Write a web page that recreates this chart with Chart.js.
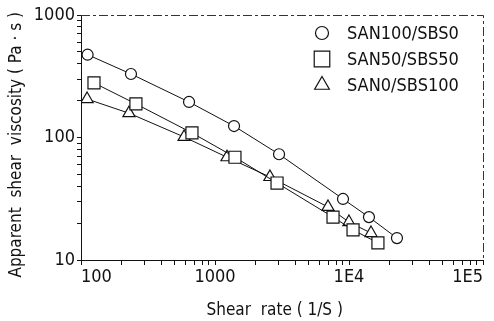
<!DOCTYPE html>
<html>
<head>
<meta charset="utf-8">
<script src="https://cdn.jsdelivr.net/npm/chart.js@4/dist/chart.umd.min.js"></script>
<style>
  html, body { margin: 0; padding: 0; background: #fff; }
  #grafico { display: block; }
</style>
</head>
<body>
<canvas id="grafico" width="494" height="321"></canvas>
<script>
// dados (taxa de cisalhamento em 1/s, viscosidade em Pa·s)
const seriesLabels = ['SAN100/SBS0', 'SAN50/SBS50', 'SAN0/SBS100'];
const shearRate100 = [112, 236, 640, 1387, 3006, 9020, 14090, 22800];
const visc100 = [474, 330, 195, 124, 73, 31.5, 22.4, 15.1];
const shearRate50 = [125, 257, 673, 1409, 2904, 7600, 10720, 16440];
const visc50 = [279, 188, 109, 69, 42.5, 22.4, 17.6, 13.8];
const shearRate0 = [111, 228, 588, 1230, 2570, 6970, 9990, 14590];
const visc0 = [206, 158, 101, 69, 47.6, 27.1, 20.4, 16.6];
const xTickLabels = {100: '100', 1000: '1000', 10000: '1E4', 100000: '1E5'};
const yTickLabels = {10: '10', 100: '100', 1000: '1000'};

const FONTE = "'DejaVu Sans Condensed', 'Liberation Sans Narrow', 'DejaVu Sans', sans-serif";
const TINTA = '#111';

function pares(xs, ys) {
  return xs.map((x, i) => ({ x: x, y: ys[i] }));
}

// marcas de 1 a 9 em cada década do eixo logarítmico
function marcasLog(scale) {
  const ticks = [];
  for (let e = Math.round(Math.log10(scale.min)); Math.pow(10, e) <= scale.max; e++) {
    for (let k = 1; k <= 9; k++) {
      const v = k * Math.pow(10, e);
      if (v >= scale.min && v <= scale.max) ticks.push({ value: v, major: k === 1 });
    }
  }
  scale.ticks = ticks;
}

function serie(label, xs, ys, estilo, raio) {
  return {
    label: label,
    data: pares(xs, ys),
    borderColor: TINTA,
    borderWidth: 1,
    pointStyle: estilo,
    pointRadius: raio,
    pointHoverRadius: raio,
    pointBackgroundColor: '#fff',
    pointBorderColor: TINTA,
    pointBorderWidth: 1.2,
    showLine: true,
    tension: 0
  };
}

// moldura tracejada em cima e à direita
const moldura = {
  id: 'moldura',
  afterDraw(chart) {
    const { ctx, chartArea: a } = chart;
    ctx.save();
    ctx.strokeStyle = '#333';
    ctx.lineWidth = 1;
    ctx.setLineDash([9, 3, 3, 3]);
    ctx.beginPath();
    ctx.moveTo(a.left, a.top + 0.5);
    ctx.lineTo(a.right + 0.5, a.top + 0.5);
    ctx.lineTo(a.right + 0.5, a.bottom);
    ctx.stroke();
    ctx.restore();
  }
};

// legenda desenhada dentro da área do gráfico
const legenda = {
  id: 'legenda',
  afterDraw(chart) {
    const { ctx, chartArea: a } = chart;
    const raios = [6.5, 11, 8.5];
    ctx.save();
    chart.data.datasets.forEach((ds, i) => {
      const x = a.right - 161;
      const y = a.top + 18 + i * 26;
      ctx.fillStyle = '#fff';
      ctx.strokeStyle = TINTA;
      ctx.lineWidth = 1.2;
      Chart.helpers.drawPoint(ctx, { pointStyle: ds.pointStyle, radius: raios[i], rotation: 0, borderWidth: 1.2 }, x, y);
      ctx.fillStyle = TINTA;
      ctx.font = '18px ' + FONTE;
      ctx.textBaseline = 'middle';
      ctx.textAlign = 'left';
      ctx.fillText(ds.label, x + 25, y + 1);
    });
    ctx.restore();
  }
};

new Chart(document.getElementById('grafico'), {
  type: 'scatter',
  data: {
    datasets: [
      serie(seriesLabels[0], shearRate100, visc100, 'circle', 5.5),
      serie(seriesLabels[1], shearRate50, visc50, 'rect', 8.5),
      serie(seriesLabels[2], shearRate0, visc0, 'triangle', 7)
    ]
  },
  options: {
    responsive: false,
    animation: false,
    devicePixelRatio: 1,
    layout: { padding: { top: 15, right: 11, left: 0, bottom: 0 } },
    plugins: {
      legend: { display: false },
      tooltip: { enabled: false }
    },
    scales: {
      x: {
        type: 'logarithmic',
        min: 100,
        max: 100000,
        afterBuildTicks: marcasLog,
        afterFit(s) { s.height = 61; s.paddingLeft = 0; s.paddingRight = 0; },
        grid: { drawOnChartArea: false, color: TINTA, tickLength: 5 },
        border: { color: TINTA, width: 1 },
        ticks: {
          autoSkip: false,
          maxRotation: 0,
          align: 'inner',
          padding: 2,
          color: TINTA,
          font: { family: FONTE, size: 18 },
          callback: v => xTickLabels[v] || ''
        },
        title: {
          display: true,
          text: 'Shear  rate ( 1/S )   ',
          color: TINTA,
          font: { family: FONTE, size: 17 },
          padding: { top: 4, bottom: 0 }
        }
      },
      y: {
        type: 'logarithmic',
        min: 10,
        max: 1000,
        afterBuildTicks: marcasLog,
        afterFit(s) { s.width = 81; s.paddingTop = 0; s.paddingBottom = 0; },
        grid: { drawOnChartArea: false, color: TINTA, tickLength: 4 },
        border: { color: TINTA, width: 1 },
        ticks: {
          autoSkip: false,
          padding: 2,
          color: TINTA,
          font: { family: FONTE, size: 18 },
          callback: v => yTickLabels[v] || ''
        },
        title: {
          display: true,
          text: 'Apparent  shear  viscosity ( Pa · s )   ',
          color: TINTA,
          font: { family: FONTE, size: 17 },
          padding: { top: 6, bottom: 0 }
        }
      }
    }
  },
  plugins: [moldura, legenda]
});
</script>
</body>
</html>
